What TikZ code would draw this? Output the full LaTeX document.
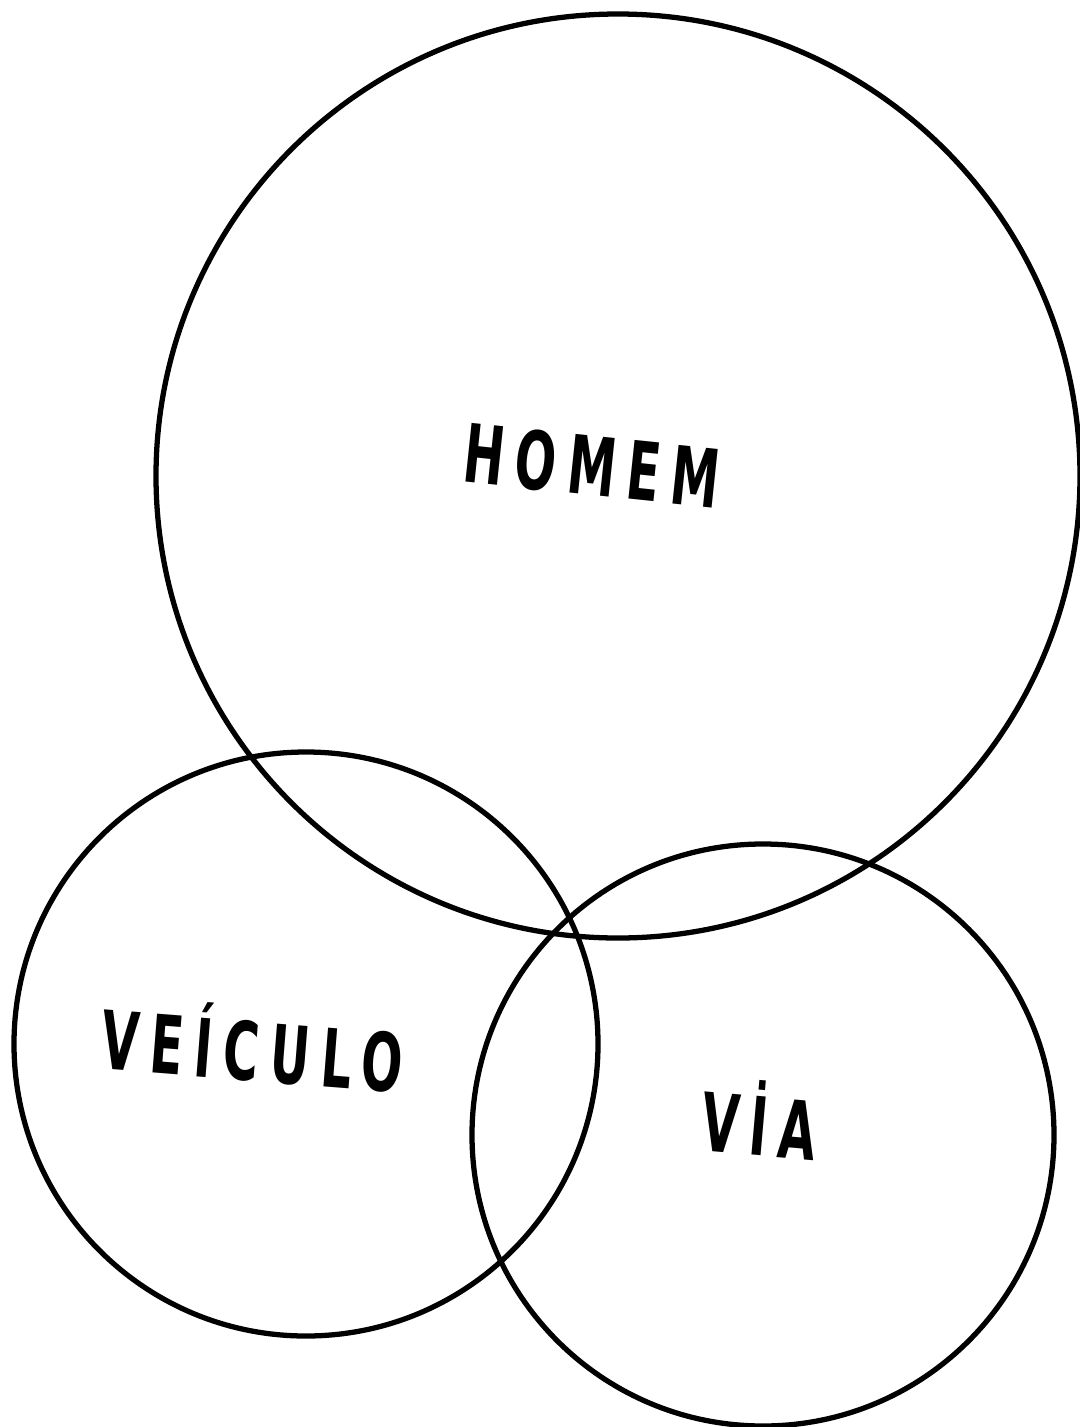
\documentclass[tikz,border=0pt]{standalone}
\usepackage{fontspec}
\newfontfamily\lettering[FakeStretch=0.6,LetterSpace=14]{DejaVu Sans}
\tikzset{word/.style={font=\lettering\bfseries\fontsize{46}{50}\selectfont,inner sep=0pt}}
\begin{document}
\begin{tikzpicture}[x=0.02cm,y=-0.02cm,line width=3pt]
  \useasboundingbox (0,0) rectangle (1079,1427);
  % Circles
  \draw (618,476) circle[radius=462];
  \draw (306,1044) circle[radius=292];
  \draw (763,1135) circle[radius=291];
  % Labels
  \node[word,rotate=-6] (homem) at (592,466) {HOMEM};
  \node[word,rotate=-4.5] (veiculo) at (253,1044) {VEÍCULO};
  \node[word,rotate=-5] (via) at (760,1118) {VİA};
\end{tikzpicture}
\end{document}
